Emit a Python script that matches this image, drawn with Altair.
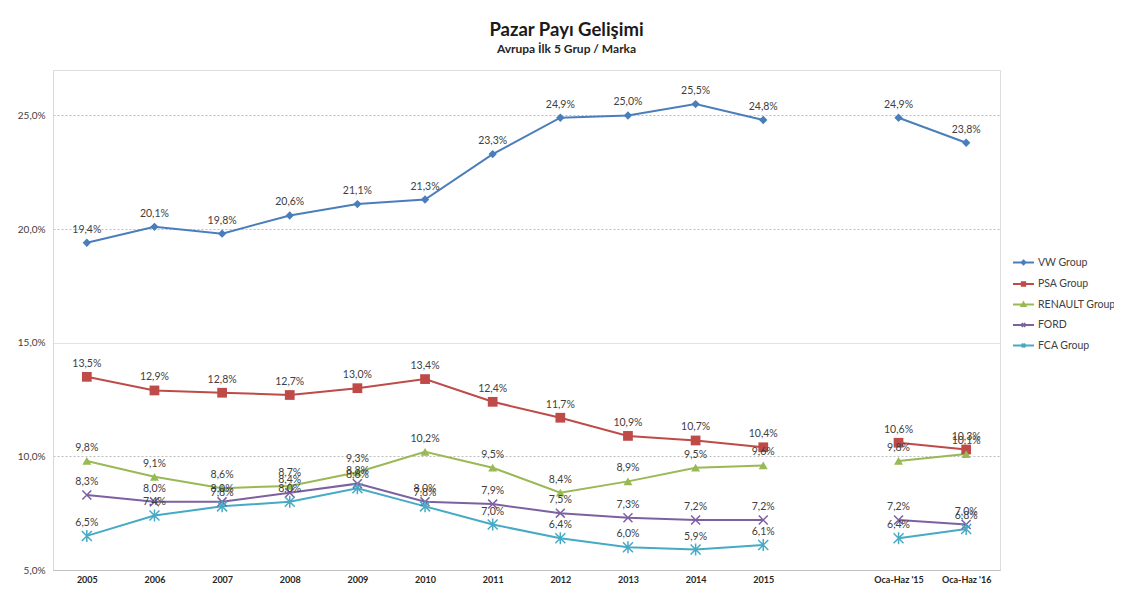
import altair as alt
import pandas as pd

categories = ["2005", "2006", "2007", "2008", "2009", "2010", "2011", "2012",
              "2013", "2014", "2015", " ", "Oca-Haz '15", "Oca-Haz '16"]
data_categories = ["2005", "2006", "2007", "2008", "2009", "2010", "2011", "2012",
                   "2013", "2014", "2015", "Oca-Haz '15", "Oca-Haz '16"]
segments = [1] * 11 + [2, 2]

series_names = ["VW Group", "PSA Group", "RENAULT Group", "FORD", "FCA Group"]
vw = [19.4, 20.1, 19.8, 20.6, 21.1, 21.3, 23.3, 24.9, 25.0, 25.5, 24.8, 24.9, 23.8]
psa = [13.5, 12.9, 12.8, 12.7, 13.0, 13.4, 12.4, 11.7, 10.9, 10.7, 10.4, 10.6, 10.3]
renault = [9.8, 9.1, 8.6, 8.7, 9.3, 10.2, 9.5, 8.4, 8.9, 9.5, 9.6, 9.8, 10.1]
ford = [8.3, 8.0, 8.0, 8.4, 8.8, 8.0, 7.9, 7.5, 7.3, 7.2, 7.2, 7.2, 7.0]
fca = [6.5, 7.4, 7.8, 8.0, 8.6, 7.8, 7.0, 6.4, 6.0, 5.9, 6.1, 6.4, 6.8]
series_values = [vw, psa, renault, ford, fca]

colors = ["#4A7EBB", "#BE4B48", "#98B954", "#7D60A0", "#46AAC5"]
marker_shapes = [
    "diamond",
    "square",
    "triangle-up",
    "M-1,-1L1,1M-1,1L1,-1",
    "M-1,-1L1,1M-1,1L1,-1M0,-1.2L0,1.2",
]
marker_filled = [True, True, True, False, False]
marker_sizes = [70, 95, 80, 80, 100]
legend_paths = [
    "M-1,0L1,0M0,-0.2L0.2,0L0,0.2L-0.2,0Z",
    "M-1,0L1,0M-0.17,-0.17H0.17V0.17H-0.17Z",
    "M-1,0L1,0M0,-0.2L0.2,0.15L-0.2,0.15Z",
    "M-1,0L1,0M-0.17,-0.17L0.17,0.17M-0.17,0.17L0.17,-0.17",
    "M-1,0L1,0M-0.17,-0.17L0.17,0.17M-0.17,0.17L0.17,-0.17M0,-0.2L0,0.2",
]

rows = []
for name, vals in zip(series_names, series_values):
    for cat, v, seg in zip(data_categories, vals, segments):
        rows.append({"cat": cat, "series": name, "value": v, "seg": seg,
                     "label": f"{v:.1f}".replace(".", ",") + "%"})
df = pd.DataFrame(rows)

FONT = "Lato"

x_enc = alt.X(
    "cat:N",
    sort=categories,
    scale=alt.Scale(domain=categories, type="point", padding=0.5),
    axis=alt.Axis(title=None, labelAngle=0, labelFontWeight="bold", labelFontSize=9,
                  labelColor="#262626", labelFont=FONT, ticks=False, labelPadding=5,
                  domainColor="#BFBFBF", grid=False),
)
y_enc = alt.Y(
    "value:Q",
    scale=alt.Scale(domain=[5, 27], nice=False, zero=False),
    axis=alt.Axis(title=None, values=[5, 10, 15, 20, 25],
                  labelExpr="replace(format(datum.value, '.1f'), '.', ',') + '%'",
                  labelFontSize=10, labelColor="#404040", labelFont=FONT,
                  ticks=False, labelPadding=8, domainColor="#D9D9D9",
                  grid=True,
                  gridColor={"condition": {"test": "datum.value === 15", "value": "#E3E3E3"},
                             "value": "#BDBDBD"},
                  gridDash={"condition": {"test": "datum.value === 15", "value": []},
                            "value": [2, 2]},
                  gridWidth=1),
)

base = alt.Chart(df)
layers = []
for name, c in zip(series_names, colors):
    layers.append(
        base.transform_filter(alt.datum.series == name)
        .mark_line(color=c, strokeWidth=2)
        .encode(x=x_enc, y=y_enc, detail="seg:N")
    )
for name, c, shp, fl, sz in zip(series_names, colors, marker_shapes, marker_filled, marker_sizes):
    if fl:
        kw = dict(shape=shp, filled=True, color=c, size=sz, opacity=1)
    else:
        kw = dict(shape=shp, filled=False, color=c, size=sz, strokeWidth=1.5, opacity=1)
    layers.append(
        base.transform_filter(alt.datum.series == name)
        .mark_point(**kw)
        .encode(x=x_enc, y=y_enc)
    )

layers.append(
    base.mark_text(dy=-13, fontSize=10.5, color="#404040", font=FONT)
    .encode(x=x_enc, y=y_enc, text="label:N")
)

leg = alt.Legend(title=None, orient="none", legendX=959, legendY=181,
                 symbolSize=440, symbolStrokeWidth=1.8, symbolOpacity=1,
                 labelFontSize=10.5, labelColor="#404040", labelFont=FONT,
                 rowPadding=3.5, padding=0, labelOffset=3)
layers.append(
    base.mark_point(opacity=0, filled=True)
    .encode(
        x=x_enc, y=y_enc,
        fill=alt.Fill("series:N", scale=alt.Scale(domain=series_names, range=colors),
                      sort=series_names, legend=leg),
        stroke=alt.Stroke("series:N", scale=alt.Scale(domain=series_names, range=colors),
                          sort=series_names, legend=leg),
        shape=alt.Shape("series:N", scale=alt.Scale(domain=series_names, range=legend_paths),
                        sort=series_names, legend=leg),
    )
)

chart = alt.layer(*layers).properties(
    width=947,
    height=500,
    padding={"left": 45, "top": 62, "right": 114, "bottom": 17},
    autosize=alt.AutoSizeParams(type="none"),
    title=alt.TitleParams(
        text="Pazar Payı Gelişimi",
        subtitle="Avrupa İlk 5 Grup / Marka",
        font=FONT, subtitleFont=FONT, fontSize=18.5, subtitleFontSize=12,
        fontWeight="bold", subtitleFontWeight="bold",
        color="#1a1a1a", subtitleColor="#262626",
        anchor="middle", dx=40, offset=15, subtitlePadding=5,
    ),
).configure_view(stroke=None).configure(background="white")

chart.save("out.html", embed_options={"renderer": "svg", "actions": False})
